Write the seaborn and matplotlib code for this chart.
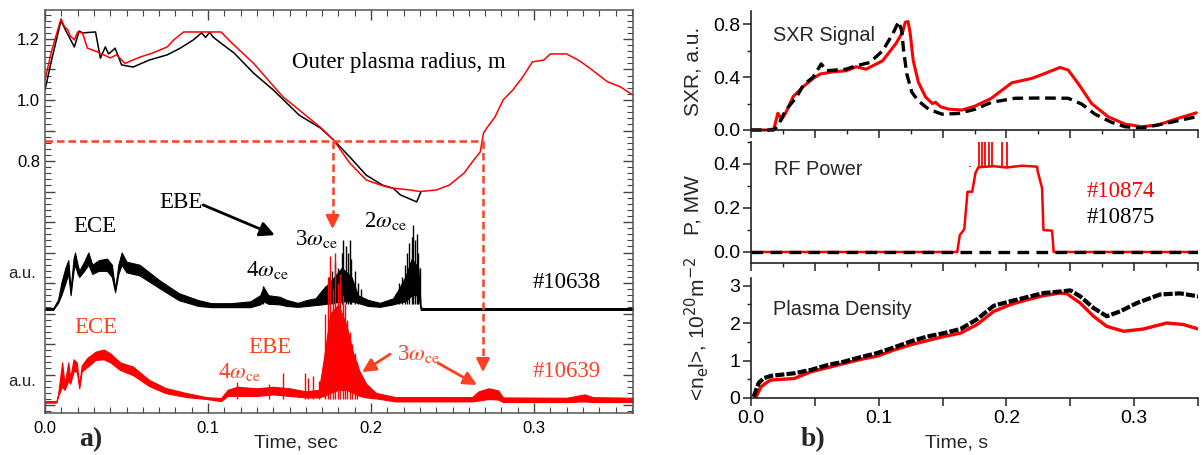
import numpy as np
import matplotlib.pyplot as plt
import seaborn as sns
from matplotlib.ticker import MultipleLocator, FuncFormatter

sns.set_theme(style="ticks")
plt.rcParams["font.family"] = ["Liberation Sans", "DejaVu Sans"]
SERIF = ["Liberation Serif", "DejaVu Serif"]
RED = "#ff0000"
ORANGE = "#ff4020"

# ---- a) outer plasma radius, m ----
rad_red_t = [0.0, 0.004, 0.0098, 0.012, 0.014, 0.0155, 0.018, 0.020, 0.023, 0.026, 0.032, 0.040,
             0.044, 0.049, 0.058, 0.066, 0.075, 0.079, 0.085, 0.108, 0.114, 0.128, 0.146, 0.156,
             0.169, 0.177, 0.187, 0.197, 0.2055, 0.212, 0.224, 0.230, 0.240, 0.248, 0.257, 0.263,
             0.267, 0.269, 0.271, 0.276, 0.281, 0.287, 0.293, 0.299, 0.306, 0.310, 0.320, 0.328,
             0.334, 0.345, 0.353, 0.3607]
rad_red = [1.066, 1.16, 1.266, 1.24, 1.23, 1.21, 1.197, 1.223, 1.22, 1.17, 1.158, 1.138,
           1.148, 1.12, 1.14, 1.154, 1.174, 1.197, 1.223, 1.223, 1.19, 1.12, 1.01, 0.967,
           0.91, 0.869, 0.793, 0.738, 0.722, 0.712, 0.705, 0.70, 0.705, 0.721, 0.76, 0.803,
           0.83, 0.892, 0.908, 0.944, 1.0, 1.033, 1.075, 1.125, 1.131, 1.151, 1.151, 1.128,
           1.105, 1.06, 1.043, 1.016]
rad_blk_t = [0.0, 0.004, 0.0098, 0.013, 0.018, 0.021, 0.023, 0.031, 0.034, 0.037, 0.039, 0.041,
             0.043, 0.047, 0.054, 0.064, 0.075, 0.083, 0.091, 0.096, 0.0985, 0.101, 0.103, 0.107,
             0.116, 0.128, 0.140, 0.156, 0.169, 0.177, 0.187, 0.197, 0.207, 0.2135, 0.218, 0.228,
             0.2307]
rad_blk = [1.033, 1.13, 1.26, 1.225, 1.174, 1.226, 1.22, 1.223, 1.137, 1.174, 1.151, 1.16,
           1.17, 1.115, 1.108, 1.131, 1.148, 1.17, 1.197, 1.22, 1.205, 1.222, 1.207, 1.19,
           1.154, 1.088, 1.033, 0.95, 0.908, 0.869, 0.813, 0.754, 0.721, 0.711, 0.689, 0.666,
           0.70]

# ---- a) ECE / EBE signals (#10638 black, #10639 red), band envelopes ----
ece_blk_t = [0.0, 0.005, 0.008, 0.010, 0.0125, 0.0143, 0.0157, 0.0175, 0.0184, 0.020, 0.021,
             0.024, 0.0266, 0.029, 0.033, 0.038, 0.041, 0.043, 0.045, 0.047, 0.050, 0.058, 0.070,
             0.082, 0.094, 0.102, 0.114, 0.126, 0.132, 0.134, 0.137, 0.144, 0.148, 0.155, 0.161,
             0.166, 0.170, 0.176, 0.182, 0.188, 0.192, 0.198, 0.2055, 0.2135, 0.217, 0.221, 0.225,
             0.229, 0.2305, 0.232, 0.3607]
ece_blk_hi = [0.318, 0.318, 0.345, 0.40, 0.45, 0.475, 0.38, 0.48, 0.50, 0.46, 0.44,
              0.47, 0.50, 0.46, 0.475, 0.48, 0.46, 0.38, 0.46, 0.50, 0.47, 0.46, 0.41,
              0.367, 0.344, 0.334, 0.334, 0.34, 0.36, 0.387, 0.36, 0.355, 0.345, 0.335, 0.345,
              0.35, 0.377, 0.41, 0.45, 0.42, 0.36, 0.345, 0.335, 0.35, 0.38, 0.42, 0.48,
              0.45, 0.32, 0.318, 0.318]
ece_blk_lo = [0.312, 0.312, 0.335, 0.36, 0.40, 0.43, 0.36, 0.44, 0.46, 0.43, 0.42,
              0.44, 0.46, 0.43, 0.44, 0.44, 0.42, 0.37, 0.43, 0.46, 0.435, 0.425, 0.384,
              0.344, 0.325, 0.321, 0.321, 0.321, 0.33, 0.34, 0.332, 0.33, 0.325, 0.322, 0.325,
              0.328, 0.33, 0.335, 0.34, 0.34, 0.335, 0.325, 0.322, 0.33, 0.335, 0.34, 0.36,
              0.36, 0.312, 0.312, 0.312]
spk_blk_t = [0.172, 0.174, 0.176, 0.178, 0.180, 0.182, 0.183, 0.1845, 0.186, 0.187, 0.188,
             0.190, 0.192, 0.194, 0.217, 0.219, 0.221, 0.222, 0.2235, 0.225, 0.226, 0.227,
             0.228, 0.229, 0.230, 0.134]
spk_blk = [0.39, 0.42, 0.44, 0.47, 0.45, 0.50, 0.54, 0.52, 0.50, 0.54, 0.48,
           0.44, 0.40, 0.38, 0.40, 0.42, 0.46, 0.50, 0.53, 0.55, 0.59, 0.54,
           0.56, 0.50, 0.45, 0.39]

ece_red_t = [0.0, 0.007, 0.008, 0.0105, 0.012, 0.0143, 0.0155, 0.0175, 0.0195, 0.021, 0.0225,
             0.026, 0.031, 0.036, 0.040, 0.046, 0.054, 0.064, 0.074, 0.087, 0.099, 0.108, 0.112,
             0.118, 0.130, 0.140, 0.150, 0.160, 0.168, 0.171, 0.175, 0.180, 0.185, 0.189, 0.193,
             0.197, 0.203, 0.215, 0.262, 0.266, 0.272, 0.278, 0.281, 0.320, 0.331, 0.336, 0.3607]
ece_red_hi = [0.013, 0.013, 0.036, 0.14, 0.07, 0.14, 0.09, 0.15, 0.14, 0.065, 0.13,
              0.155, 0.175, 0.182, 0.17, 0.14, 0.126, 0.082, 0.056, 0.039, 0.026, 0.023, 0.05,
              0.06, 0.055, 0.06, 0.055, 0.045, 0.05, 0.15, 0.30, 0.33, 0.26, 0.17, 0.11,
              0.07, 0.04, 0.026, 0.026, 0.045, 0.055, 0.048, 0.025, 0.024, 0.035, 0.026, 0.024]
ece_red_lo = [0.008, 0.008, 0.03, 0.06, 0.05, 0.08, 0.07, 0.11, 0.11, 0.055, 0.11,
              0.125, 0.148, 0.15, 0.14, 0.115, 0.098, 0.062, 0.039, 0.026, 0.02, 0.013, 0.03,
              0.03, 0.03, 0.035, 0.03, 0.025, 0.025, 0.03, 0.04, 0.05, 0.05, 0.04, 0.03,
              0.025, 0.022, 0.012, 0.012, 0.015, 0.02, 0.018, 0.01, 0.01, 0.012, 0.01, 0.01]
spk_red_t = [0.172, 0.1735, 0.175, 0.1765, 0.178, 0.1795, 0.181, 0.1825, 0.184, 0.1855, 0.187,
             0.1885, 0.190, 0.1915, 0.1176, 0.1375, 0.146, 0.1595, 0.1615, 0.1647, 0.168]
spk_red = [0.30, 0.42, 0.49, 0.38, 0.50, 0.40, 0.43, 0.36, 0.33, 0.28, 0.24,
           0.20, 0.17, 0.14, 0.076, 0.07, 0.105, 0.105, 0.09, 0.096, 0.08]

# ---- b) SXR signal, a.u. (#10874 red, #10875 black) ----
sxr_red_t = [0.0, 0.014, 0.018, 0.021, 0.024, 0.027, 0.033, 0.0411, 0.0487, 0.054, 0.0641,
             0.0745, 0.0823, 0.0901, 0.1031, 0.1135, 0.1187, 0.1208, 0.123, 0.1247, 0.127, 0.131,
             0.1367, 0.142, 0.1445, 0.1484, 0.1547, 0.165, 0.1755, 0.188, 0.2042, 0.2198, 0.2302,
             0.2419, 0.2484, 0.2562, 0.2667, 0.2797, 0.2927, 0.3057, 0.3187, 0.3343, 0.3487]
sxr_red = [0.0, 0.0, 0.01, 0.127, 0.08, 0.127, 0.252, 0.33, 0.39, 0.423, 0.44,
           0.448, 0.478, 0.46, 0.524, 0.654, 0.74, 0.815, 0.82, 0.727, 0.526, 0.362,
           0.25, 0.20, 0.21, 0.176, 0.158, 0.151, 0.181, 0.239, 0.357, 0.39, 0.428,
           0.473, 0.453, 0.352, 0.20, 0.10, 0.045, 0.025, 0.038, 0.088, 0.13]
sxr_blk_t = [0.0, 0.0177, 0.021, 0.027, 0.0358, 0.041, 0.0487, 0.055, 0.059, 0.0745, 0.0823,
             0.093, 0.1031, 0.111, 0.1156, 0.118, 0.1195, 0.122, 0.126, 0.131, 0.1391, 0.1495,
             0.1625, 0.1755, 0.1885, 0.2068, 0.2276, 0.2484, 0.2589, 0.2693, 0.2823, 0.2927,
             0.3057, 0.3187, 0.3343, 0.3487]
sxr_blk = [0.0, 0.0, 0.03, 0.146, 0.252, 0.34, 0.40, 0.50, 0.448, 0.46, 0.486,
           0.51, 0.60, 0.727, 0.82, 0.75, 0.60, 0.423, 0.285, 0.22, 0.157, 0.12,
           0.125, 0.157, 0.21, 0.24, 0.242, 0.24, 0.196, 0.12, 0.058, 0.025,
           0.015, 0.038, 0.07, 0.10]

# ---- b) RF power, MW ----
rf_red_t = [0.0, 0.1615, 0.1635, 0.167, 0.1695, 0.1732, 0.1758, 0.178, 0.190, 0.200, 0.212,
            0.224, 0.2245, 0.2279, 0.229, 0.2357, 0.237, 0.35]
rf_red = [0.0, 0.0, 0.077, 0.103, 0.274, 0.274, 0.36, 0.385, 0.39, 0.384, 0.392,
          0.388, 0.366, 0.29, 0.10, 0.097, 0.0, 0.0]
rf_spk_t = [0.1716, 0.1784, 0.1810, 0.1836, 0.1862, 0.1888, 0.1966, 0.2005]
rf_spk = [0.39, 0.5, 0.5, 0.5, 0.5, 0.5, 0.5, 0.5]
rf_blk_t = [0.0, 0.35]
rf_blk = [0.0, 0.0]

# ---- b) plasma density, 1e20 m^-2 ----
ne_blk_t = [0.002, 0.006, 0.010, 0.0156, 0.0339, 0.047, 0.060, 0.0729, 0.0859, 0.099, 0.112,
            0.125, 0.138, 0.151, 0.164, 0.177, 0.1901, 0.2031, 0.2161, 0.2292, 0.2422, 0.250,
            0.2578, 0.2682, 0.2786, 0.289, 0.302, 0.3203, 0.3359, 0.3503]
ne_blk = [0.03, 0.40, 0.53, 0.59, 0.66, 0.75, 0.88, 0.97, 1.09, 1.20, 1.35,
          1.51, 1.64, 1.73, 1.84, 2.10, 2.46, 2.58, 2.69, 2.80, 2.84, 2.87,
          2.71, 2.40, 2.18, 2.31, 2.53, 2.76, 2.79, 2.71]
ne_red_t = [0.004, 0.0078, 0.013, 0.0156, 0.0339, 0.047, 0.060, 0.0729, 0.0859, 0.099, 0.112,
            0.125, 0.138, 0.151, 0.164, 0.177, 0.1901, 0.2031, 0.2161, 0.2292, 0.2422, 0.2474,
            0.2578, 0.2682, 0.2786, 0.2917, 0.3073, 0.3255, 0.3385, 0.3503]
ne_red = [0.03, 0.30, 0.43, 0.48, 0.52, 0.70, 0.81, 0.92, 1.03, 1.12, 1.28,
          1.42, 1.53, 1.64, 1.73, 1.96, 2.31, 2.49, 2.62, 2.73, 2.80, 2.78,
          2.53, 2.18, 1.91, 1.78, 1.84, 2.00, 1.96, 1.84]

R_MARK = 0.866      # radius where the dashed guide is drawn
t_cross = [0.1764, 0.2687]
tip_v = [0.577, 0.108]

W, H = 1204, 455
fig = plt.figure(figsize=(W / 100, H / 100), dpi=100)


def px(x0, y0, x1, y1):
    return [x0 / W, 1 - y1 / H, (x1 - x0) / W, (y1 - y0) / H]


# ================= panel a =================
ax = fig.add_axes(px(45, 10, 633, 413))
sns.lineplot(x=rad_blk_t, y=rad_blk, color="black", linewidth=1.1, ax=ax)
sns.lineplot(x=rad_red_t, y=rad_red, color=RED, linewidth=1.1, ax=ax)

ax.fill_between(ece_blk_t, ece_blk_lo, ece_blk_hi, color="black", linewidth=0.8)
ax.vlines(spk_blk_t, 0.33, spk_blk, color="black", linewidth=1.0)
ax.fill_between(ece_red_t, ece_red_lo, ece_red_hi, color=RED, linewidth=0.8)
ax.vlines(spk_red_t, 0.02, spk_red, color=RED, linewidth=1.0)

ax.plot([0, t_cross[1]], [R_MARK, R_MARK], color=ORANGE, lw=1.8, dashes=(3, 1.6))
for tc, tv in zip(t_cross, tip_v):
    ax.plot([tc, tc], [R_MARK, tv + 0.04], color=ORANGE, lw=1.8, dashes=(3, 1.6))
    ax.annotate("", xy=(tc, tv), xytext=(tc, tv + 0.045),
                arrowprops=dict(arrowstyle="-|>", color=ORANGE, lw=1.8,
                                mutation_scale=20, shrinkA=0, shrinkB=0))

ax.annotate("", xy=(0.141, 0.557), xytext=(0.097, 0.656),
            arrowprops=dict(arrowstyle="-|>", color="black", lw=2,
                            mutation_scale=22, shrinkA=0, shrinkB=0))
ax.annotate("", xy=(0.1945, 0.108), xytext=(0.2117, 0.167),
            arrowprops=dict(arrowstyle="-|>", color=ORANGE, lw=2,
                            mutation_scale=20, shrinkA=0, shrinkB=0))
ax.annotate("", xy=(0.265, 0.066), xytext=(0.241, 0.138),
            arrowprops=dict(arrowstyle="-|>", color=ORANGE, lw=2,
                            mutation_scale=20, shrinkA=0, shrinkB=0))

sk = dict(family=SERIF, fontsize=16.5, va="baseline", math_fontfamily="stix")
ax.text(0.1515, 1.105, "Outer plasma radius, m", color="black", **sk)
ax.text(0.0834, 0.646, "EBE", color="black", ha="center", **sk)
ax.text(0.0307, 0.567, "ECE", color="black", ha="center", **sk)
ax.text(0.1233, 0.423, r"4$\omega_{\rm ce}$", color="black", **sk)
ax.text(0.1534, 0.525, r"3$\omega_{\rm ce}$", color="black", **sk)
ax.text(0.1957, 0.584, r"2$\omega_{\rm ce}$", color="black", **sk)
ax.text(0.2994, 0.384, "#10638", color="black", **sk)
ax.text(0.0178, 0.236, "ECE", color=ORANGE, **sk)
ax.text(0.1245, 0.170, "EBE", color=ORANGE, **sk)
ax.text(0.1061, 0.0885, r"4$\omega_{\rm ce}$", color=ORANGE, **sk)
ax.text(0.2160, 0.1475, r"3$\omega_{\rm ce}$", color=ORANGE, **sk)
ax.text(0.2994, 0.092, "#10639", color=ORANGE, **sk)

ax.set_xlim(0, 0.3607)
ax.set_ylim(-0.026, 1.295)
ax.xaxis.set_major_locator(MultipleLocator(0.1))
ax.xaxis.set_minor_locator(MultipleLocator(0.01))
ax.yaxis.set_major_locator(MultipleLocator(0.1))
ax.yaxis.set_minor_locator(MultipleLocator(0.02))
ax.xaxis.set_major_formatter(FuncFormatter(lambda v, p: f"{v:.1f}"))
ax.yaxis.set_major_formatter(
    FuncFormatter(lambda v, p: f"{v:.1f}" if round(v * 10) in (8, 10, 12) else ""))
ax.tick_params(which="both", direction="in", top=True, right=True, colors="#444444",
               labelcolor="black", labelsize=12)
ax.tick_params(which="major", length=7, width=1)
ax.tick_params(which="minor", length=4, width=0.8)
ax.tick_params(axis="x", pad=6)
for s in ax.spines.values():
    s.set_color("#555555")
    s.set_linewidth(1.1)
ax.set_xlabel("")
ax.set_ylabel("")

for yy in (273, 381):
    fig.text(22 / W, 1 - yy / H, "a.u.", fontsize=12, ha="center", va="center")
fig.text(91 / W, 1 - 440 / H, "a)", family=SERIF, fontsize=20, fontweight="bold",
         ha="center", va="center")
fig.text(296 / W, 1 - 447 / H, "Time, sec", fontsize=14, ha="center", va="baseline")

# ================= panel b =================
ax1 = fig.add_axes(px(751, 11, 1198, 130))
ax2 = fig.add_axes(px(751, 142, 1198, 263))
ax3 = fig.add_axes(px(751, 278, 1198, 398))

sns.lineplot(x=sxr_red_t, y=sxr_red, color=RED, linewidth=2.2, ax=ax1, clip_on=False)
sns.lineplot(x=sxr_blk_t, y=sxr_blk, color="black", linewidth=2.4, ax=ax1, clip_on=False)
ax1.lines[-1].set_dashes((3.2, 1.7))
ax1.set_ylim(0, 0.9)
ax1.yaxis.set_major_locator(MultipleLocator(0.4))
ax1.yaxis.set_minor_locator(MultipleLocator(0.2))
ax1.text(0.0172, 0.672, "SXR Signal", fontsize=14.3, va="baseline")

sns.lineplot(x=rf_red_t, y=rf_red, color=RED, linewidth=1.8, ax=ax2)
ax2.vlines(rf_spk_t, 0.385, rf_spk, color=RED, linewidth=1.3)
sns.lineplot(x=rf_blk_t, y=rf_blk, color="black", linewidth=2.4, ax=ax2)
ax2.lines[-1].set_dashes((3.5, 2.2))
ax2.set_ylim(-0.05, 0.5)
ax2.yaxis.set_major_locator(MultipleLocator(0.2))
ax2.yaxis.set_minor_locator(MultipleLocator(0.1))
ax2.text(0.018, 0.35, "RF Power", fontsize=14.3, va="baseline")
ax2.text(0.263, 0.25, "#10874", color=RED, family=SERIF, fontsize=16.5, va="baseline")
ax2.text(0.263, 0.132, "#10875", color="black", family=SERIF, fontsize=16.5, va="baseline")

sns.lineplot(x=ne_red_t, y=ne_red, color=RED, linewidth=2.4, ax=ax3)
sns.lineplot(x=ne_blk_t, y=ne_blk, color="black", linewidth=3.0, ax=ax3)
ax3.lines[-1].set_dashes((2.2, 0.5))
ax3.set_ylim(0, 3.2)
ax3.yaxis.set_major_locator(MultipleLocator(1))
ax3.yaxis.set_minor_locator(MultipleLocator(0.5))
ax3.text(0.017, 2.21, "Plasma Density", fontsize=14.3, va="baseline")

for a in (ax1, ax2, ax3):
    a.set_xlim(0, 0.35)
    a.set_xlabel("")
    a.set_ylabel("")
    sns.despine(ax=a)
    a.xaxis.set_major_locator(MultipleLocator(0.05))
    a.xaxis.set_major_formatter(
        FuncFormatter(lambda v, p: f"{v:.1f}" if abs(v * 10 - round(v * 10)) < 1e-6 else ""))
    a.tick_params(which="both", direction="out", colors="#222222", labelcolor="black",
                  labelsize=14, pad=2)
    a.tick_params(which="major", length=5.5, width=1.1)
    a.tick_params(which="minor", length=3, width=1.0)
    for s in a.spines.values():
        s.set_color("#222222")
        s.set_linewidth(1.2)
for a in (ax1, ax2):
    a.xaxis.set_minor_locator(MultipleLocator(0.025))
    a.tick_params(axis="x", labelbottom=False)
ax3.tick_params(axis="x", pad=3)

fig.text(693 / W, 1 - 71 / H, "SXR, a.u.", fontsize=15, rotation=90, ha="center", va="center")
fig.text(693 / W, 1 - 205 / H, "P, MW", fontsize=15, rotation=90, ha="center", va="center")
fig.text(697 / W, 1 - 329 / H, r"<n$_{\rm e}$l>, 10$^{20}$m$^{-2}$", fontsize=15,
         rotation=90, ha="center", va="center", math_fontfamily="dejavusans")
fig.text(813 / W, 1 - 440 / H, "b)", family=SERIF, fontsize=20, fontweight="bold",
         ha="center", va="center")
fig.text(957 / W, 1 - 448 / H, "Time, s", fontsize=14, ha="center", va="baseline")

fig.savefig("out.png", dpi=100)
